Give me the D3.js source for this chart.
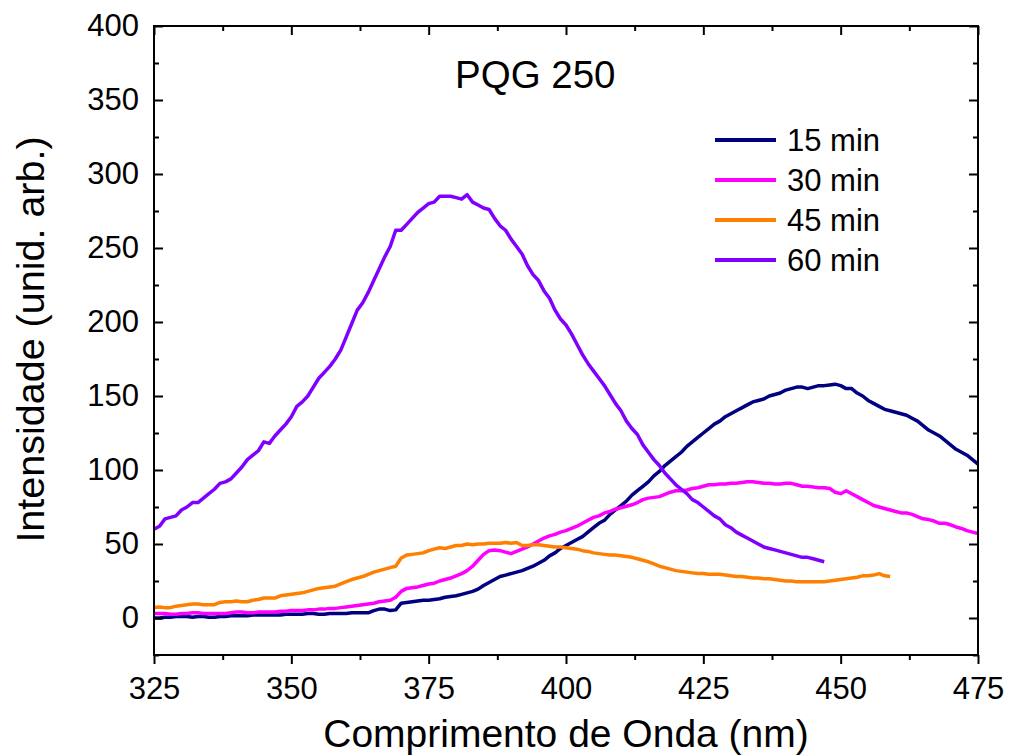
<!DOCTYPE html>
<html>
<head>
<meta charset="utf-8">
<script src="https://cdn.jsdelivr.net/npm/d3@7"></script>
<style>
  body { margin: 0; background: #fff; }
  svg { display: block; font-family: "Liberation Sans", Arial, sans-serif; }
</style>
</head>
<body>
<div id="chart"></div>
<script>
// spectra sampled every 1 nm, each series starts at 325 nm
const startNm = 325;
const seriesNames = ["15 min", "30 min", "45 min", "60 min"];
const seriesColors = ["#000080", "#ff00ff", "#ff7f00", "#8000ff"];

const int15 = [
  0,0,0.5,0.5,1,1,1,0.5,1,1, 0.5,0.5,1,1,1.5,1.5,1.5,1.5,2,2,
  2,2,2,2,2.5,2.5,2.5,2.5,3,3, 2.5,2.5,3,3,3,3,3.5,3.5,3.5,3.5,
  5,6,6,5,5.5,10,10.5,11,11.5,12, 12,12.5,13,14,14.5,15,16,17,18,19.5,
  22,24,26,28,29,30,31,32,33.5,35, 37,39,42,44,47,49,51,53,55,58,
  61,64,66,70,73,76,79,83,86,89, 92,96,99,103,106,109,112,116,119,122,
  125,128,131,133,136,138,140,142,144,146, 147,148,150,151,152,154,155,156,156,155,
  156,157,157,157.5,158,157,155,155,152,150, 147,145,143,141,140,139,138,137,135,133,
  130,127,125,123,120,117,114,112,110,107, 104
];
const int30 = [
  3,3,3,2.5,2.5,3,3,3.5,3.5,3, 3,3,3,3,3.5,4,4,3.5,3.5,4,
  4,4,4,4.5,4.5,5,5,5,5.5,5.5, 6,6,6.5,6.5,7,7.5,8,8.5,9,9.5,
  10,11,11.5,12,14,18,20,20.5,21,22, 23,23.5,25,26,27,28.5,30,32,35,39,
  43,45.5,46,45.5,44.5,43.5,45,46.5,48,50, 52,54,55.5,56.5,58,59,60.5,62,64,66,
  68,69,71,72,73.5,74.5,75.5,76.5,78,80, 81,81.5,82,83.5,85,86,86,86.5,87.5,88,
  89,90,90,90.5,90.5,91,91,91.5,92,92, 91.5,91,91,90.5,90.5,91,91,90,89,89,
  88.5,88,88,87.5,85,84,86,84,82,80, 78,76,75,74,73,72,71,71,70,68.5,
  67,66.5,65.5,64,64,63,61.5,60.5,59,58, 57
];
const int45 = [
  7,7.5,7,7,8,8.5,9,9.5,9.5,9, 9,9,10.5,11,11,11.5,11,11,12,12.5,
  13.5,13.5,13.5,15,15.5,16,16.5,17,18,19, 20,20.5,21,21.5,23,24.5,26,27,28,29.5,
  31,32,33,34,35,40.5,42.5,43,43.5,44, 45.5,46.5,47.5,47,48,49,49,50,49.5,50,
  50,50.5,50.5,50.5,51,50.5,51,49,49,49.5, 49.5,49,48.5,48,48,47.5,47,46.5,45.5,45,
  44,43.5,43,42.5,42.5,42,41.5,41,40,39, 38,36.5,35,34,33,32,31.5,31,30.5,30,
  30,29.5,29.5,29.5,29,28.5,28,28,27.5,27, 27,26.5,26.5,26,25.5,25,25,24.5,24.5,24.5,
  24.5,24.5,24.5,25,25.5,26,26.5,27,27.5,28.5, 28.5,29,30,28.5,28
];
const int60 = [
  60,62,67,68,69,73,75,78,78,81, 84,87,91,92,94,98,102,107,110,113,
  119,118,123,127,131,136,143,146,150,156, 162,166,170,175,181,190,199,208,213,220,
  228,236,244,251,262,262,266,270,274,277, 280,281,285,285,285,284,283,286,281,279,
  277,276,270,265,262,256,251,246,238,232, 228,221,216,208,202,198,192,185,178,172,
  167,162,157,151,145,140,133,128,124,117, 112,107,103,98,94,90,87,84,80,78,
  75,72,69,67,63,61,58,56,54,52, 50,48,47,46,45,44,43,42,41,41,
  40,39,38
];
const xTicks = [325, 350, 375, 400, 425, 450, 475];
const yTicks = [0, 50, 100, 150, 200, 250, 300, 350, 400];
const chartTitle = "PQG 250";

const width = 1009, height = 756;
const margin = { top: 26, right: 31, bottom: 101, left: 154 };
const plotW = width - margin.left - margin.right;
const plotH = height - margin.top - margin.bottom;

const svg = d3.select("#chart").append("svg")
  .attr("width", width)
  .attr("height", height);

const g = svg.append("g")
  .attr("transform", "translate(" + margin.left + "," + margin.top + ")");

const x = d3.scaleLinear().domain([325, 475]).range([0, plotW]);
const y = d3.scaleLinear().domain([-25, 400]).range([plotH, 0]);

const xMinor = d3.range(325, 476, 12.5).filter(v => !xTicks.includes(v));
const yMinor = d3.range(-25, 401, 25).filter(v => !yTicks.includes(v));

const series = [int15, int30, int45, int60].map((vals, i) => ({
  name: seriesNames[i],
  color: seriesColors[i],
  points: vals.map((v, j) => [startNm + j, v])
}));

// curves, clipped to the plot frame
svg.append("defs").append("clipPath").attr("id", "clip")
  .append("rect").attr("width", plotW).attr("height", plotH);

const line = d3.line().x(d => x(d[0])).y(d => y(d[1]));

g.append("g").attr("clip-path", "url(#clip)")
  .selectAll("path")
  .data(series)
  .join("path")
  .attr("fill", "none")
  .attr("stroke", d => d.color)
  .attr("stroke-width", 3.5)
  .attr("stroke-linejoin", "round")
  .attr("d", d => line(d.points));

// axes
function styleAxis(sel) {
  sel.select(".domain").remove();
  sel.selectAll("line").attr("stroke", "#000").attr("stroke-width", 2);
  sel.selectAll("text").attr("fill", "#000").style("font-size", "31px")
    .style("font-family", "'Liberation Sans', Arial, sans-serif");
}

g.append("g").attr("transform", "translate(0," + plotH + ")")
  .call(d3.axisBottom(x).tickValues(xTicks).tickSize(9).tickSizeOuter(0).tickPadding(13))
  .call(styleAxis);
g.append("g").attr("transform", "translate(0," + plotH + ")")
  .call(d3.axisBottom(x).tickValues(xMinor).tickSize(5).tickFormat(""))
  .call(styleAxis);

g.append("g")
  .call(d3.axisLeft(y).tickValues(yTicks).tickSize(-9).tickSizeOuter(0).tickPadding(15))
  .call(styleAxis);
g.append("g")
  .call(d3.axisLeft(y).tickValues(yMinor).tickSize(-5).tickFormat(""))
  .call(styleAxis);

g.append("g")
  .call(d3.axisTop(x).tickValues(xTicks).tickSize(-9).tickFormat(""))
  .call(styleAxis);
g.append("g")
  .call(d3.axisTop(x).tickValues(xMinor).tickSize(-5).tickFormat(""))
  .call(styleAxis);

g.append("g").attr("transform", "translate(" + plotW + ",0)")
  .call(d3.axisRight(y).tickValues(yTicks).tickSize(-9).tickFormat(""))
  .call(styleAxis);
g.append("g").attr("transform", "translate(" + plotW + ",0)")
  .call(d3.axisRight(y).tickValues(yMinor).tickSize(-5).tickFormat(""))
  .call(styleAxis);

g.append("rect")
  .attr("width", plotW).attr("height", plotH)
  .attr("fill", "none").attr("stroke", "#000").attr("stroke-width", 2);

// axis titles
svg.append("text")
  .attr("x", margin.left + plotW / 2)
  .attr("y", 747)
  .attr("text-anchor", "middle")
  .style("font-size", "39px")
  .text("Comprimento de Onda (nm)");

svg.append("text")
  .attr("transform", "translate(44," + (margin.top + plotH / 2 - 1) + ") rotate(-90)")
  .attr("text-anchor", "middle")
  .style("font-size", "39.5px")
  .text("Intensidade (unid. arb.)");

// title inside plot
svg.append("text")
  .attr("x", 455).attr("y", 88)
  .style("font-size", "38.5px")
  .text(chartTitle);

// legend
const legend = svg.append("g").attr("transform", "translate(715,140)")
  .selectAll("g")
  .data(series)
  .join("g")
  .attr("transform", (d, i) => "translate(0," + i * 40 + ")");

legend.append("line")
  .attr("x1", 0).attr("x2", 61)
  .attr("stroke", d => d.color)
  .attr("stroke-width", 4);

legend.append("text")
  .attr("x", 72).attr("dy", "0.36em")
  .style("font-size", "31px")
  .text(d => d.name);
</script>
</body>
</html>
